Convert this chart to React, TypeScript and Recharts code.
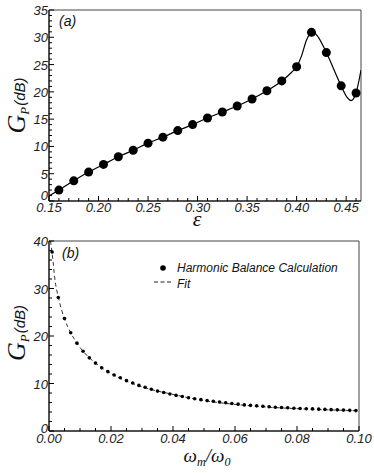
import { ComposedChart, Line, Scatter, XAxis, YAxis, ReferenceArea, Legend } from 'recharts'

// ── Data: panel (a) ───────────────────────────────────────────────────────────
const epsPoints  = [0.16, 0.175, 0.19, 0.205, 0.22, 0.235, 0.25, 0.265, 0.28, 0.295, 0.31,
                    0.325, 0.34, 0.355, 0.37, 0.385, 0.4, 0.415, 0.43, 0.445, 0.46]
const gainPoints = [2.0, 3.7, 5.3, 6.7, 8.1, 9.3, 10.6, 11.7, 12.9, 14.0, 15.2,
                    16.3, 17.4, 18.7, 20.2, 22.0, 24.6, 30.9, 27.2, 21.1, 19.8]
const epsCurve   = [0.15, 0.16, 0.175, 0.19, 0.205, 0.22, 0.235, 0.25, 0.265, 0.28, 0.295,
                    0.31, 0.325, 0.34, 0.355, 0.37, 0.385, 0.395, 0.4, 0.405, 0.41, 0.416,
                    0.422, 0.43, 0.445, 0.451, 0.455, 0.46, 0.465]
const gainCurve  = [0.9, 2.0, 3.7, 5.3, 6.7, 8.1, 9.3, 10.6, 11.7, 12.9, 14.0,
                    15.2, 16.3, 17.4, 18.7, 20.2, 22.0, 23.6, 24.6, 26.6, 29.5, 31.0,
                    30.0, 27.2, 21.1, 19.0, 18.4, 19.8, 24.0]
const epsMajorTicks = [0.15, 0.2, 0.25, 0.3, 0.35, 0.4, 0.45]
const gainMajorTicksA = [0, 5, 10, 15, 20, 25, 30, 35]

// ── Data: panel (b) ───────────────────────────────────────────────────────────
const omegaPoints = [0.001, 0.003, 0.005, 0.007, 0.009, 0.011, 0.013, 0.015, 0.017, 0.019,
                     0.021, 0.023, 0.025, 0.027, 0.029, 0.031, 0.033, 0.035, 0.037, 0.039,
                     0.041, 0.043, 0.045, 0.047, 0.049, 0.051, 0.053, 0.055, 0.057, 0.059,
                     0.061, 0.063, 0.065, 0.067, 0.069, 0.071, 0.073, 0.075, 0.077, 0.079,
                     0.081, 0.083, 0.085, 0.087, 0.089, 0.091, 0.093, 0.095, 0.097, 0.099]
const hbGain      = [37.7, 28.1, 23.7, 20.7, 18.5, 16.8, 15.4, 14.3, 13.3, 12.5,
                     11.8, 11.2, 10.6, 10.1, 9.6, 9.2, 8.8, 8.4, 8.1, 7.8,
                     7.5, 7.25, 7.0, 6.8, 6.6, 6.4, 6.25, 6.1, 5.95, 5.8,
                     5.65, 5.5, 5.4, 5.3, 5.2, 5.1, 5.0, 4.95, 4.9, 4.8,
                     4.75, 4.7, 4.65, 4.6, 4.55, 4.5, 4.45, 4.4, 4.35, 4.3]
const fitOmega    = [0.0005, 0.001, 0.002, 0.003, 0.005, 0.007, 0.01, 0.015, 0.02, 0.03,
                     0.04, 0.05, 0.06, 0.07, 0.08, 0.09, 0.1]
const fitGain     = [40, 37.5, 31.5, 28.2, 23.6, 20.7, 17.6, 14.3, 12.1, 9.3,
                     7.7, 6.4, 5.6, 5.05, 4.7, 4.45, 4.25]
const omegaMajorTicks = [0, 0.02, 0.04, 0.06, 0.08, 0.1]
const gainMajorTicksB = [0, 10, 20, 30, 40]

// ── Helpers ───────────────────────────────────────────────────────────────────
const zip = (xs: number[], ys: number[]) => xs.map((x, i) => ({ x, y: ys[i] }))
const range = (a: number, b: number, step: number) => {
  const out: number[] = []
  const n = Math.round((b - a) / step)
  for (let i = 0; i <= n; i++) out.push(+(a + i * step).toFixed(4))
  return out
}
const isMajor = (v: number, majors: number[]) => majors.some(m => Math.abs(m - v) < 1e-6)

const tickFont = { fontFamily: '"Liberation Sans", Arial, sans-serif', fontStyle: 'italic', fontSize: 13, fill: '#222' }
const serif = '"Liberation Serif", "Times New Roman", serif'

// layout (chart-local coordinates)
const A = { left: 49, right: 361, top: 10, bottom: 201 }
const B = { left: 49, right: 359, top: 11, bottom: 201 }

// ── Ticks (inward, minor + major) ─────────────────────────────────────────────
function XTick(props: any) {
  const { x, payload, axisY, majors, digits, labelDy } = props
  const v = payload.value
  const major = isMajor(v, majors)
  return (
    <g>
      <line x1={x} x2={x} y1={axisY} y2={axisY - (major ? 5 : 3)} stroke="#000" strokeWidth={1} />
      {major && (
        <text x={x} y={axisY + labelDy} textAnchor="middle" style={tickFont}>{v.toFixed(digits)}</text>
      )}
    </g>
  )
}

function YTick(props: any) {
  const { y, payload, axisX, majors, zeroLift } = props
  const v = payload.value
  const major = isMajor(v, majors)
  const lift = v === 0 ? zeroLift : 0   // the corner "0" sits a little above the axis
  return (
    <g>
      <line x1={axisX} x2={axisX + (major ? 5 : 3)} y1={y} y2={y} stroke="#000" strokeWidth={1} />
      {major && (
        <text x={axisX - 1} y={y + 5 - lift} textAnchor="end" style={tickFont}>{String(v)}</text>
      )}
    </g>
  )
}

// ── Axis titles ───────────────────────────────────────────────────────────────
function GainTitle(props: any) {
  const vb = props.viewBox || { x: 0, y: 0, width: 0, height: 0 }
  const cx = 25
  const cy = vb.y + vb.height / 2 + props.shift
  return (
    <text transform={`translate(${cx},${cy}) rotate(-90)`} textAnchor="middle" fill="#111">
      <tspan style={{ fontFamily: serif, fontStyle: 'italic', fontSize: 26 }}>G</tspan>
      <tspan dy={4} style={{ fontFamily: serif, fontStyle: 'italic', fontSize: 13 }}>P</tspan>
      <tspan dy={-4} dx={1} style={{ fontFamily: '"Liberation Sans", Arial, sans-serif', fontStyle: 'italic', fontSize: 15 }}>(dB)</tspan>
    </text>
  )
}

function EpsTitle(props: any) {
  const vb = props.viewBox || { x: 0, y: 0, width: 0 }
  return (
    <text x={vb.x + vb.width / 2 - 8} y={A.bottom + 25} textAnchor="middle"
      style={{ fontFamily: serif, fontStyle: 'italic', fontSize: 22, fill: '#111' }}>ε</text>
  )
}

function OmegaTitle(props: any) {
  const vb = props.viewBox || { x: 0, y: 0, width: 0 }
  return (
    <text x={vb.x + vb.width / 2 + 3} y={B.bottom + 31} textAnchor="middle"
      style={{ fontFamily: serif, fontStyle: 'italic', fontSize: 19, fill: '#111' }}>
      ω<tspan dy={4} fontSize={12}>m</tspan><tspan dy={-4}>/ω</tspan><tspan dy={4} fontSize={12}>0</tspan>
    </text>
  )
}

function PanelTag(props: any) {
  const vb = props.viewBox || { x: 0, y: 0 }
  return (
    <text x={vb.x + props.dx} y={vb.y + props.dy}
      style={{ fontFamily: '"Liberation Sans", Arial, sans-serif', fontStyle: 'italic', fontSize: 14, fill: '#111' }}>
      {props.text}
    </text>
  )
}

// ── Legend (panel b) ──────────────────────────────────────────────────────────
function FitLegend() {
  const f = { fontFamily: '"Liberation Sans", Arial, sans-serif', fontStyle: 'italic', fontSize: 12, fill: '#111' }
  return (
    <svg width={210} height={36} style={{ display: 'block' }}>
      <circle cx={13} cy={10} r={2.8} fill="#000" />
      <text x={27} y={14} style={f}>Harmonic Balance Calculation</text>
      <line x1={4} x2={21} y1={24} y2={24} stroke="#222" strokeDasharray="4 2.5" />
      <text x={27} y={30} style={f}>Fit</text>
    </svg>
  )
}

const bigDot = (p: any) => <circle cx={p.cx} cy={p.cy} r={4.5} fill="#000" />
const smallDot = (p: any) => <circle cx={p.cx} cy={p.cy} r={1.8} fill="#000" />

// ── App ───────────────────────────────────────────────────────────────────────
export default function App() {
  const pointsA = zip(epsPoints, gainPoints)
  const curveA  = zip(epsCurve, gainCurve)
  const pointsB = zip(omegaPoints, hbGain)
  const fitB    = zip(fitOmega, fitGain)

  return (
    <div style={{ position: 'absolute', left: 0, top: 0, width: 374, height: 473, background: '#fff' }}>
      {/* (a) */}
      <div style={{ position: 'absolute', left: 0, top: 0 }}>
        <ComposedChart width={374} height={232} margin={{ top: A.top, right: 374 - A.right, bottom: 6, left: 0 }}>
          <XAxis
            type="number" dataKey="x" domain={[0.15, 0.465]} allowDataOverflow
            ticks={range(0.15, 0.46, 0.01)} interval={0}
            tickLine={false} axisLine={{ stroke: '#000' }} height={25}
            tick={<XTick axisY={A.bottom} majors={epsMajorTicks} digits={2} labelDy={11} />}
            label={<EpsTitle />}
          />
          <YAxis
            type="number" dataKey="y" domain={[0, 35]} allowDataOverflow
            ticks={range(0, 35, 1)} interval={0}
            tickLine={false} axisLine={{ stroke: '#000' }} width={A.left}
            tick={<YTick axisX={A.left} majors={gainMajorTicksA} zeroLift={6} />}
            label={<GainTitle shift={0} />}
          />
          <ReferenceArea x1={0.15} x2={0.465} y1={0} y2={35} fill="none" stroke="#444" strokeWidth={1}
            label={<PanelTag text="(a)" dx={10} dy={16} />} />
          <Line data={curveA} dataKey="y" type="monotone" stroke="#000" strokeWidth={1.2}
            dot={false} activeDot={false} isAnimationActive={false} />
          <Scatter data={pointsA} dataKey="y" shape={bigDot} isAnimationActive={false} />
        </ComposedChart>
      </div>

      {/* (b) */}
      <div style={{ position: 'absolute', left: 0, top: 230 }}>
        <ComposedChart width={374} height={243} margin={{ top: B.top, right: 374 - B.right, bottom: 12, left: 0 }}>
          <XAxis
            type="number" dataKey="x" domain={[0, 0.1]} allowDataOverflow
            ticks={range(0, 0.1, 0.005)} interval={0}
            tickLine={false} axisLine={{ stroke: '#000' }} height={30}
            tick={<XTick axisY={B.bottom} majors={omegaMajorTicks} digits={2} labelDy={12} />}
            label={<OmegaTitle />}
          />
          <YAxis
            type="number" dataKey="y" domain={[0, 40]} allowDataOverflow
            ticks={range(0, 40, 2)} interval={0}
            tickLine={false} axisLine={{ stroke: '#000' }} width={B.left}
            tick={<YTick axisX={B.left} majors={gainMajorTicksB} zeroLift={3} />}
            label={<GainTitle shift={-3} />}
          />
          <ReferenceArea x1={0} x2={0.1} y1={0} y2={40} fill="none" stroke="#444" strokeWidth={1}
            label={<PanelTag text="(b)" dx={13} dy={17} />} />
          <Legend
            layout="vertical" align="center" verticalAlign="middle"
            content={<FitLegend />}
            wrapperStyle={{ left: 150, top: 28, width: 210, height: 36 }}
          />
          <Line data={fitB} dataKey="y" type="monotone" stroke="#333" strokeWidth={1}
            strokeDasharray="4 3" dot={false} activeDot={false} isAnimationActive={false} />
          <Scatter data={pointsB} dataKey="y" shape={smallDot} isAnimationActive={false} />
        </ComposedChart>
      </div>
    </div>
  )
}
